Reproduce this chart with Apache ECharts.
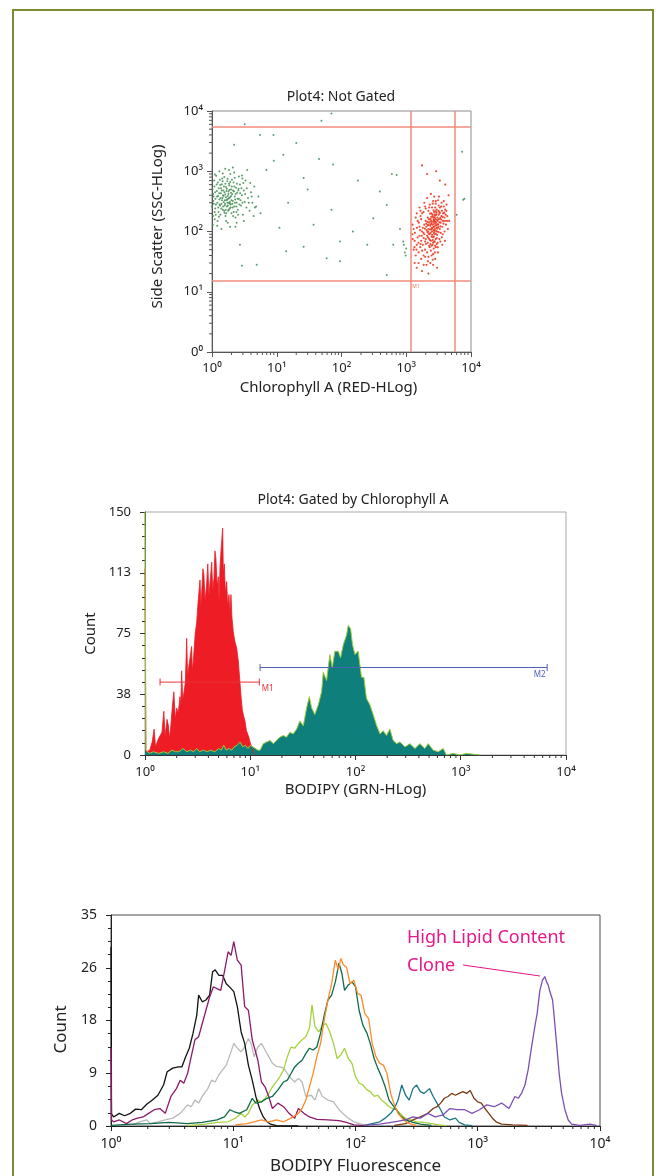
<!DOCTYPE html>
<html>
<head>
<meta charset="utf-8">
<script src="https://cdn.jsdelivr.net/npm/echarts@6/dist/echarts.min.js"></script>
<style>
  html, body { margin: 0; padding: 0; background: #fff; overflow: hidden; width: 660px; height: 1176px; }
  #frame { position: absolute; left: 12px; top: 9px; width: 642px; height: 1200px; border: 2px solid #7d8a36; box-sizing: border-box; }
  #main { position: absolute; left: 0; top: 0; width: 660px; height: 1176px; }
</style>
</head>
<body>
<div id="frame"></div>
<div id="main"></div>
<script>
// 字体 / superscripts
const FONT = '"Noto Sans", "DejaVu Sans", sans-serif';
const SUP = ['\u2070', '\u00b9', '\u00b2', '\u00b3', '\u2074'];

// log axis ticks (decades + 2..9 minors)
const decades = [1, 10, 100, 1000, 10000];
const minorMult = [2, 3, 4, 5, 6, 7, 8, 9];
const minorVals = decades.slice(0, 4).flatMap(d => minorMult.map(m => m * d));

// ---- Plot 1: Not Gated ----
const greenCloud = [
  [1.05,320],[1.1,210],[1.12,450],[1.15,280],[1.18,600],[1.2,380],[1.22,150],[1.25,250],[1.27,520],[1.3,340],
  [1.32,720],[1.35,190],[1.37,430],[1.4,290],[1.42,610],[1.45,360],[1.47,230],[1.5,480],[1.52,310],[1.55,800],
  [1.57,270],[1.6,410],[1.62,180],[1.65,550],[1.67,330],[1.7,260],[1.72,680],[1.75,390],[1.77,220],[1.8,460],
  [1.82,300],[1.85,580],[1.87,240],[1.9,370],[1.92,900],[1.95,280],[1.97,500],[2.0,200],[2.05,420],[2.1,320],
  [2.15,650],[2.2,260],[2.25,380],[2.3,170],[2.35,530],[2.4,300],[2.45,440],[2.5,230],[2.6,350],[2.7,600],
  [2.8,270],[2.9,400],[3.0,190],[3.1,480],[3.2,310],[3.3,700],[3.4,250],[3.6,360],[3.8,220],[4.0,450],
  [4.2,300],[4.5,560],[4.8,260],[5.2,380],[5.6,200],[1.0,260],[1.02,500],[1.03,130],[1.08,700],[1.06,380],
  [1.3,1000],[1.6,1100],[2.2,950],[2.6,820],[1.4,110],[1.9,120],[2.4,140],[3.5,1050],[1.1,160],[1.75,140],
  [2.1,1150],[1.33,270],[1.48,400],[1.58,330],[1.68,470],[1.78,350],[1.88,290],[1.98,390],[2.08,250],[2.18,460],
  [1.38,520],[1.63,230],[1.83,620],[2.28,340],[2.55,480],[1.24,390],[1.53,560],[1.73,300],[2.02,560],[2.38,210],
  [2.75,330],[1.16,840],[1.44,760],[1.28,175],[3.9,640],[4.4,180],[2.95,760],[1.12,240],[1.56,205],[2.12,180],
  [1.04,420],[1.07,290],[1.09,560],[1.13,350],[1.14,190],[1.19,470],[1.21,300],[1.23,650],[1.26,210],[1.29,430],
  [1.31,280],[1.34,590],[1.36,360],[1.39,240],[1.41,480],[1.43,330],[1.46,680],[1.49,260],[1.51,390],[1.54,220],
  [1.56,450],[1.59,290],[1.61,620],[1.64,370],[1.66,200],[1.69,510],[1.71,340],[1.74,750],[1.76,270],[1.79,420],
  [1.81,230],[1.84,360],[1.86,490],[1.89,310],[1.91,660],[1.94,250],[1.96,440],[1.99,330],[2.03,720],[2.07,290],
  [2.11,480],[2.16,210],[2.21,560],[2.26,300],[2.32,420],[2.37,260],[2.43,620],[2.48,350],[2.53,190],[2.58,510],
  [2.65,280],[2.72,430],[2.85,520],[2.95,300],[3.05,640],[3.25,420],[3.45,520],[3.7,300],[4.1,380],[4.6,250],
  [1.11,880],[1.47,920],[1.83,1050],[2.24,780],[2.9,850],[1.2,125],[1.65,150],[2.3,120],[3.1,150],[1.04,180]
];
const greenSparse = [
  [49,6900],[70,9100],[3.2,6000],[8.9,4000],[20,2950],[12.6,1870],[2.2,2750],[6.9,1050],[74,1290],[26,770],
  [710,870],[390,460],[70,230],[500,275],[7600,335],[6000,190],[11,115],[37,130],[150,100],[310,166],
  [95,68],[14,47],[26,56],[4.9,28],[59,36],[630,60],[950,45],[920,60],[1000,52],[900,68],
  [980,40],[500,19],[95,32],[2.7,60],[2.9,27],[7900,350],[7300,2100],[5.5,4000],[30,500],[15,300],
  [180,700],[45,1600],[9,1500],[250,60],[800,110],[600,900]
];
const redCloud = [
  [2500,100],[2700,120],[2300,90],[2900,140],[2600,80],[2200,110],[3000,100],[2800,160],[2400,70],[2100,85],
  [3100,130],[2650,105],[2350,125],[2750,90],[2950,115],[2450,150],[2150,65],[3200,160],[2550,60],[2850,75],
  [2050,120],[3300,110],[2250,140],[2620,170],[2900,190],[2480,115],[2720,135],[2380,95],[2180,100],[3050,150],
  [2580,130],[2780,110],[2300,55],[2000,75],[1900,90],[1800,60],[2100,45],[1950,50],[1700,70],[2200,38],
  [1850,40],[1650,55],[2400,48],[2600,42],[1750,100],[1600,85],[3400,140],[3500,180],[3300,200],[3150,220],
  [2950,230],[3400,95],[3600,120],[2800,250],[2450,200],[2700,210],[2150,170],[2000,150],[1900,130],[1800,115],
  [3700,150],[3550,80],[3250,75],[2950,62],[2650,52],[2350,30],[2050,28],[1700,35],[1550,45],[1450,60],
  [1400,40],[1500,80],[1350,70],[1300,50],[1250,90],[1600,120],[1700,160],[1550,30],[1450,25],[1750,22],
  [2800,35],[3100,45],[3600,60],[3900,100],[4100,130],[4300,180],[4000,230],[3800,260],[3500,300],[3100,330],
  [2600,320],[2300,280],[2000,240],[1850,210],[3700,200],[3900,170],[4400,110],[4600,150],[3300,250],[2850,290],
  [2500,250],[2200,220],[1500,150],[1300,110],[1400,170],[1250,130],[1350,30],[2600,28],[3000,25],[2200,20],
  [3200,380],[2400,420],[2700,380],[3800,320],[4200,280],[1900,300],[2100,360],[4500,400],[1600,250],[1450,200],
  [2520,112],[2680,95],[2830,125],[2330,108],[2460,82],[2760,148],[2990,88],[2240,76],[2570,178],[2890,102],
  [3120,118],[2410,132],[2140,128],[2690,68],[3030,170],[2370,162],[2610,145],[2940,205],[2230,92],[2790,58],
  [1750,1250],[2100,900],[2900,1000],[3300,700],[4000,600],
  [2520,88],[2620,118],[2720,102],[2820,142],[2920,128],[3020,112],[2420,108],[2320,72],[2220,128],[2120,98],
  [2020,62],[2660,158],[2760,172],[2860,92],[2960,158],[3060,132],[3160,98],[3260,142],[3360,168],[2460,138],
  [2360,148],[2260,58],[2160,80],[2060,105],[1960,68],[1860,78],[1760,48],[1660,62],[2560,72],[2660,82],
  [2760,68],[2860,55],[2960,78],[3060,65],[3160,190],[3260,210],[3360,122],[3460,158],[2540,190],[2640,225],
  [2740,190],[2840,215],[2440,175],[2340,198],[2240,160],[2140,145],[2040,135],[1940,112],[1840,95],[1740,85],
  [1640,105],[1540,65],[1440,50],[1340,55],[1260,75],[1360,95],[1460,115],[1560,140],[1660,180],[1760,200],
  [3560,220],[3660,175],[3760,135],[3860,205],[3960,150],[4060,190],[4160,220],[4260,150],[3460,260],[3160,270],
  [2860,320],[2560,290],[2260,250],[1960,260],[1660,220],[1960,38],[2160,32],[2460,40],[2760,45],[3060,55],
  [3360,68],[3660,90],[3960,70],[1860,28],[2560,34],[2360,62],[2460,58],[2600,65],[2700,150],[2800,185]
];
const gateY = [15, 5400];
const gateX = [1180, 5560];

// ---- Plot 2: Gated by Chlorophyll A ----
const bodipyRed = [
  [1.0,115],[1.02,2],[1.04,1],[1.11,3],[1.17,8],[1.22,16],[1.26,5],[1.29,4],[1.34,10],[1.39,9],
  [1.45,14],[1.51,27],[1.55,12],[1.58,16],[1.62,22],[1.67,18],[1.71,10],[1.75,16],[1.82,30],[1.88,39],
  [1.94,22],[2.0,29],[2.07,26],[2.15,36],[2.19,30],[2.23,52],[2.28,34],[2.35,39],[2.42,45],[2.49,72],
  [2.54,48],[2.6,54],[2.68,60],[2.77,67],[2.82,52],[2.88,58],[3.0,75],[3.1,82],[3.2,95],[3.33,108],
  [3.4,92],[3.45,99],[3.55,115],[3.63,111],[3.72,95],[3.85,105],[3.95,118],[4.05,98],[4.14,106],[4.22,112],
  [4.3,119],[4.4,102],[4.52,109],[4.62,126],[4.72,121],[4.85,104],[4.97,110],[5.05,95],[5.16,116],[5.3,128],
  [5.47,140],[5.55,112],[5.67,118],[5.8,100],[5.97,107],[6.1,92],[6.28,99],[6.4,88],[6.56,99],[6.7,85],
  [6.9,76],[7.15,70],[7.43,66],[7.7,58],[7.98,45],[8.2,35],[8.4,28],[8.65,24],[8.91,21],[9.2,15],
  [9.58,12],[10.07,7],[10.4,4],[10.7,1],[11.1,0]
];
const bodipyTeal = [
  [1.0,150],[1.02,3],[1.1,1],[1.2,2],[1.35,1],[1.5,2],[1.65,1],[1.8,3],[1.95,2],[2.1,2],
  [2.3,4],[2.5,2],[2.7,3],[2.9,2],[3.1,4],[3.3,2],[3.6,3],[3.9,2],[4.2,3],[4.6,2],
  [5.0,4],[5.3,3],[5.6,6],[5.9,3],[6.3,4],[6.7,3],[7.0,5],[7.5,6],[8.0,8],[8.5,5],
  [9.0,6],[9.5,4],[10.0,6],[10.6,5],[11.2,4],[11.8,3],[12.4,3],[13.3,7],[14.3,8],[15.4,9],
  [16.6,7],[17.8,9],[19.1,11],[20.6,12],[22.1,11],[23.8,14],[25.6,13],[27.6,16],[29.6,21],[31.9,18],
  [34.3,29],[36.4,36],[38.3,29],[41.1,25],[44.3,31],[47.6,39],[49.4,51],[53.1,46],[57.1,62],[60.1,54],
  [63.7,64],[68.6,64],[72.1,60],[76.5,68],[82.2,74],[85.3,80],[89.8,78],[93.8,68],[98.7,62],[106,64],
  [114,48],[120,48],[127,35],[137,31],[147,25],[159,18],[171,13],[183,15],[197,12],[212,16],
  [228,9],[245,7],[264,8],[295,5],[329,7],[367,4],[409,7],[456,4],[491,7],[547,3],
  [611,2],[681,4],[732,0],[847,1],[980,0],[1135,1],[1518,0]
];
const gateM1 = [1.39, 12.2];
const gateM2 = [12.4, 6620];
const gateM1Count = 45;
const gateM2Count = 54;

// ---- Plot 3: BODIPY Fluorescence of clones ----
const cloneBlack = [
  [1.0,29.7],[1.01,2],[1.05,1.5],[1.17,2.1],[1.29,1.7],[1.44,2.1],[1.59,2.8],[1.77,2.7],[1.96,3.6],[2.18,4.3],
  [2.42,5.1],[2.69,6.8],[2.88,9.0],[3.2,9.6],[3.55,9.8],[3.8,9.8],[4.08,11.5],[4.37,12.9],[4.69,15.4],[5.03,18.4],
  [5.21,21.7],[5.58,20.6],[5.98,20.9],[6.41,21.7],[6.78,25.6],[7.12,25.9],[7.63,25.0],[8.18,25.0],[8.77,23.6],[9.4,23.0],
  [10.1,22.3],[10.8,19.8],[11.6,15.6],[12.4,13.7],[13.3,10.1],[14.3,7.6],[15.3,4.9],[16.4,2.9],[17.6,1.5],[18.9,0.7],
  [20.2,0.3],[22.5,0.05],[34.1,0]
];
const cloneMagenta = [
  [1.0,13],[1.01,1],[1.05,0.7],[1.17,1.0],[1.34,0.4],[1.49,1.0],[1.65,1.3],[1.83,1.5],[2.03,2.1],[2.26,2.7],
  [2.51,2.9],[2.78,2.1],[3.09,4.9],[3.43,6.2],[3.68,7.6],[3.94,7.1],[4.23,8.7],[4.53,11.5],[4.86,14.3],[5.21,14.8],
  [5.58,17.0],[5.98,19.2],[6.41,21.4],[6.88,23.1],[7.37,22.8],[7.9,22.5],[8.47,25.6],[9.08,28.9],[9.6,28.3],[10.1,30.6],
  [10.8,27.5],[11.6,26.7],[12.4,19.8],[13.3,19.2],[14.3,14.3],[15.9,10.9],[17.0,7.3],[18.2,6.5],[19.5,4.9],[20.9,2.9],
  [23.2,3.8],[25.8,3.2],[28.6,2.1],[31.8,1.3],[34.1,2.9],[37.8,2.1],[42.0,1.5],[48.3,1.1],[59.5,1.0],[73.3,0.9],
  [84.3,0.6],[96.9,0.2],[119,0.05]
];
const cloneGray = [
  [1.49,0.2],[1.71,0.7],[1.96,1.0],[2.1,0.4],[2.42,0.7],[2.78,1.0],[3.2,1.3],[3.68,2.1],[4.23,3.5],[4.53,3.2],
  [4.86,4.3],[5.21,3.8],[5.58,4.9],[6.19,6.2],[6.64,7.6],[7.12,7.3],[7.63,8.5],[8.18,9.3],[8.77,10.1],[9.4,11.8],
  [10.1,13.7],[10.8,12.9],[11.6,12.3],[12.4,13.1],[13.3,14.5],[14.0,13.7],[14.8,11.5],[15.9,13.1],[17.0,13.7],[18.2,12.6],
  [19.5,11.5],[20.9,10.4],[22.5,9.9],[24.1,9.8],[25.8,9.6],[27.7,8.7],[29.7,7.9],[31.8,7.3],[34.1,7.9],[36.6,7.3],
  [39.2,4.9],[43.5,5.1],[46.6,4.3],[50.0,6.2],[53.6,4.9],[59.5,4.3],[66.1,4.0],[73.3,2.7],[78.5,2.1],[87.3,1.3],
  [96.9,0.7],[111,0.3],[137,0.1]
];
const cloneLime = [
  [4.23,0.05],[5.98,0.3],[7.37,0.6],[9.08,0.7],[10.4,1.3],[11.6,2.1],[12.4,1.5],[13.3,2.1],[14.3,3.5],[15.9,4.3],
  [17.0,4.0],[18.2,4.6],[19.5,5.4],[20.9,6.5],[22.5,7.3],[24.1,8.2],[25.8,9.3],[27.7,11.5],[29.7,13.1],[31.8,12.9],
  [34.1,13.7],[36.6,14.3],[39.2,14.8],[42.0,16.2],[44.1,20.1],[46.6,16.5],[50.0,15.6],[53.6,16.7],[57.5,17.0],[61.6,15.6],
  [66.1,13.7],[70.8,11.2],[75.9,11.8],[81.4,12.9],[87.3,11.2],[93.6,10.4],[100,8.2],[107,7.1],[115,6.8],[124,6.0],
  [132,5.7],[142,4.9],[152,5.1],[163,4.3],[175,3.8],[188,3.2],[201,2.9],[216,2.7],[231,2.1],[248,1.5],
  [266,1.1],[285,1.0],[316,0.7],[363,0.6],[418,0.4],[480,0.2],[552,0.05]
];
const cloneGreen = [
  [1.01,0.1],[1.49,0.3],[2.1,0.4],[2.98,0.6],[4.23,0.4],[5.58,0.6],[7.37,1.0],[8.47,1.5],[9.4,2.7],[10.1,2.4],
  [11.2,2.1],[12.9,2.7],[14.3,4.6],[15.3,3.8],[17.0,4.0],[18.9,4.6],[20.9,4.9],[23.2,6.0],[25.8,7.3],[27.7,7.6],
  [29.7,8.7],[31.8,9.8],[34.1,10.4],[36.6,10.9],[39.2,12.0],[42.0,12.9],[45.0,12.6],[48.3,13.1],[51.8,15.4],[55.5,18.4],
  [59.5,20.9],[63.8,21.7],[68.4,23.9],[73.3,27.0],[77.4,25.3],[81.4,22.5],[87.3,23.4],[93.6,23.9],[100,23.1],[107,19.2],
  [115,16.7],[124,15.4],[132,13.7],[142,11.2],[152,9.6],[163,8.2],[175,6.5],[188,4.3],[201,3.5],[216,2.7],
  [231,1.8],[257,1.0],[295,0.6],[339,0.3],[418,0.1]
];
const cloneOrange = [
  [10.4,0.2],[12.9,0.4],[14.8,0.7],[17.0,1.0],[19.5,0.7],[22.5,1.0],[25.8,0.7],[29.7,1.3],[34.1,2.1],[36.6,2.9],
  [39.2,4.3],[42.0,6.5],[45.0,8.7],[48.3,11.5],[51.8,13.7],[55.5,17.6],[59.5,20.9],[63.8,23.6],[68.4,27.5],[72.3,25.9],
  [75.9,27.8],[79.6,26.7],[84.3,26.4],[90.3,23.6],[96.9,24.2],[104,22.0],[111,21.7],[119,18.7],[128,17.8],[137,13.7],
  [147,11.5],[158,10.4],[169,10.1],[181,8.7],[194,5.4],[208,3.5],[223,2.1],[248,1.0],[275,0.4],[316,0.1]
];
const cloneTeal = [
  [119,0.1],[137,0.4],[158,0.7],[175,1.3],[194,2.1],[208,2.9],[223,4.3],[239,6.8],[257,5.1],[275,4.3],
  [295,6.2],[316,6.8],[339,5.7],[363,5.4],[403,6.2],[432,4.9],[464,3.8],[497,2.7],[533,1.5],[592,1.0],
  [657,1.3],[704,0.6],[782,0.2],[898,0.05]
];
const cloneBrown = [
  [208,0.1],[257,0.4],[295,1.0],[339,1.5],[390,2.1],[432,2.9],[464,3.2],[497,3.8],[533,4.6],[571,4.9],
  [613,5.4],[657,5.1],[704,5.4],[755,5.7],[809,5.4],[867,5.9],[931,4.6],[998,4.0],[1069,3.8],[1146,2.9],
  [1230,2.1],[1318,1.3],[1413,0.7],[1567,0.3],[1932,0.2],[2553,0.1]
];
const cloneViolet = [
  [119,0.1],[158,0.3],[208,0.7],[257,1.0],[295,1.5],[339,1.3],[390,2.1],[448,1.5],[515,1.8],[592,2.9],
  [680,2.7],[782,2.7],[898,2.1],[1033,2.7],[1187,3.5],[1365,3.2],[1567,3.8],[1803,2.9],[2013,4.9],[2143,4.6],
  [2280,5.4],[2432,6.8],[2583,9.3],[2754,13.1],[2931,16.5],[3062,18.7],[3221,22.5],[3388,24.2],[3539,24.8],[3653,23.9],
  [3767,23.4],[3890,22.3],[4093,20.9],[4220,18.1],[4411,13.7],[4637,8.7],[4852,5.4],[5164,2.7],[5495,1.0],[5861,0.3],
  [6839,0.1],[8260,0.3],[9376,0.1]
];
const cloneSeries = [cloneGray, cloneLime, cloneBlack, cloneMagenta, cloneTeal, cloneBrown, cloneGreen, cloneOrange, cloneViolet];
const cloneColors = ['#b9b9b9', '#a5d23c', '#111111', '#8c1a6a', '#1b7585', '#7b3a12', '#0d6a4b', '#ff8a2a', '#7c4fb3'];

// ---- helpers ----
function logLabel(v) {
  return '10' + SUP[Math.round(Math.log10(v))];
}

function logAxis(gridIndex, name, gap, o) {
  return {
    type: 'log', logBase: 10, min: 1, max: 10000, interval: 1, gridIndex,
    name, nameLocation: 'middle', nameGap: gap,
    nameTextStyle: { fontSize: o.nameSize, color: '#222', fontFamily: FONT, padding: o.namePad || 0 },
    axisLine: { show: true, lineStyle: { color: o.color, width: 1 } },
    axisTick: { show: true, length: 5, lineStyle: { color: o.color } },
    axisLabel: { fontSize: o.labelSize, color: '#222', margin: o.margin, fontFamily: FONT, formatter: o.formatter || logLabel },
    splitLine: { show: false }
  };
}

function countAxis(gridIndex, max, interval, split, gap, o) {
  return {
    type: 'value', min: 0, max, interval, gridIndex,
    name: 'Count', nameLocation: 'middle', nameGap: gap,
    nameTextStyle: { fontSize: o.nameSize, color: '#222', fontFamily: FONT, padding: o.namePad || 0 },
    axisLine: { show: true, lineStyle: { color: o.color, width: 1 } },
    axisTick: { show: true, length: 5, lineStyle: { color: o.color } },
    minorTick: { show: true, splitNumber: split, length: 3, lineStyle: { color: o.color } },
    axisLabel: { fontSize: o.labelSize, color: '#222', margin: o.margin, fontFamily: FONT, formatter: v => String(Math.round(v)) },
    splitLine: { show: false }
  };
}

// minor log ticks drawn as a custom series (2..9 of every decade)
function minorLogTicks(xi, yi, dim, base, color) {
  return {
    type: 'custom', xAxisIndex: xi, yAxisIndex: yi, silent: true, clip: false, z: 5,
    data: minorVals.map(v => dim === 'x' ? [v, base] : [base, v]),
    renderItem: function (params, api) {
      const p = api.coord([api.value(0), api.value(1)]);
      const shape = dim === 'x'
        ? { x1: p[0], y1: p[1], x2: p[0], y2: p[1] + 3 }
        : { x1: p[0], y1: p[1], x2: p[0] - 3, y2: p[1] };
      return { type: 'line', shape, style: { stroke: color, lineWidth: 1 } };
    }
  };
}

const chart = echarts.init(document.getElementById('main'), null, { renderer: 'canvas' });

const option = {
  animation: false,
  backgroundColor: 'transparent',
  textStyle: { fontFamily: FONT },
  grid: [
    { left: 212, top: 111, width: 259, height: 241, show: true, borderColor: '#8c8c8c', borderWidth: 1 },
    { left: 145, top: 512, width: 421, height: 243, show: true, borderColor: '#a8a8a8', borderWidth: 1 },
    { left: 111, top: 915, width: 489, height: 211, show: true, borderColor: '#4a4a4a', borderWidth: 1 }
  ],
  xAxis: [
    logAxis(0, 'Chlorophyll A (RED-HLog)', 28, { nameSize: 15, labelSize: 13, margin: 10, color: '#555', namePad: [0, 26, 0, 0] }),
    logAxis(1, 'BODIPY (GRN-HLog)', 27, { nameSize: 15, labelSize: 13, margin: 11, color: '#333' }),
    logAxis(2, 'BODIPY Fluorescence', 32, { nameSize: 17, labelSize: 14, margin: 11, color: '#222' })
  ],
  yAxis: [
    logAxis(0, 'Side Scatter (SSC-HLog)', 47, {
      nameSize: 15, labelSize: 13, margin: 9, color: '#555', namePad: [0, 0, 0, 10],
      formatter: v => (Math.round(Math.log10(v)) === 0 ? '0' + SUP[0] : logLabel(v))
    }),
    countAxis(1, 150, 37.5, 5, 38, { nameSize: 15, labelSize: 13, margin: 14, color: '#333' }),
    countAxis(2, 35, 8.75, 4, 40, { nameSize: 17, labelSize: 14, margin: 14, color: '#222', namePad: [0, 18, 0, 0] })
  ],
  graphic: [
    { type: 'text', x: 341, y: 97, style: { text: 'Plot4: Not Gated', font: '14px ' + FONT, fill: '#222', textAlign: 'center', textVerticalAlign: 'middle' } },
    { type: 'text', x: 353, y: 500, style: { text: 'Plot4: Gated by Chlorophyll A', font: '14px ' + FONT, fill: '#222', textAlign: 'center', textVerticalAlign: 'middle' } },
    { type: 'text', x: 407, y: 938, style: { text: 'High Lipid Content', font: '18px ' + FONT, fill: '#e8178a', textAlign: 'left', textVerticalAlign: 'middle' } },
    { type: 'text', x: 407, y: 966, style: { text: 'Clone', font: '18px ' + FONT, fill: '#e8178a', textAlign: 'left', textVerticalAlign: 'middle' } },
    { type: 'line', shape: { x1: 463, y1: 965, x2: 540, y2: 976 }, style: { stroke: '#e8178a', lineWidth: 1 } }
  ],
  series: [
    // plot 1
    {
      type: 'scatter', xAxisIndex: 0, yAxisIndex: 0, data: greenCloud.concat(greenSparse),
      symbolSize: 2, itemStyle: { color: '#3d8c4e', opacity: 0.85 }, silent: true
    },
    {
      type: 'scatter', xAxisIndex: 0, yAxisIndex: 0, data: redCloud,
      symbolSize: 2.2, itemStyle: { color: '#ee3a22', opacity: 0.9 }, silent: true,
      markLine: {
        silent: true, symbol: 'none', label: { show: false },
        lineStyle: { color: '#f08a7a', width: 1.5, type: 'solid' },
        data: gateY.map(v => ({ yAxis: v })).concat(gateX.map(v => ({ xAxis: v })))
      }
    },
    {
      type: 'scatter', xAxisIndex: 0, yAxisIndex: 0, data: [[1406, 12.1]], symbolSize: 1,
      itemStyle: { color: 'transparent' }, silent: true,
      label: { show: true, position: 'inside', formatter: 'M1', fontSize: 5, color: '#e0503a' }
    },
    minorLogTicks(0, 0, 'x', 1, '#555'),
    minorLogTicks(0, 0, 'y', 1, '#555'),
    // plot 2
    {
      type: 'line', xAxisIndex: 1, yAxisIndex: 1, data: bodipyRed, symbol: 'none',
      lineStyle: { color: '#ee1c25', width: 0.8 }, areaStyle: { color: '#ee1c25', opacity: 1 }, silent: true
    },
    {
      type: 'line', xAxisIndex: 1, yAxisIndex: 1, data: bodipyTeal, symbol: 'none',
      lineStyle: { color: '#9bcb3b', width: 1 }, areaStyle: { color: '#0e7f7b', opacity: 1 }, silent: true
    },
    {
      type: 'line', xAxisIndex: 1, yAxisIndex: 1, silent: true, z: 4,
      data: [[gateM1[0], gateM1Count], { value: [gateM1[1], gateM1Count], label: { show: true, position: 'right', distance: 2, offset: [0, 7], formatter: 'M1', fontSize: 8, color: '#e8343a' } }],
      symbol: 'rect', symbolSize: [1, 7], itemStyle: { color: '#e8343a' }, lineStyle: { color: '#e8343a', width: 1 }
    },
    {
      type: 'line', xAxisIndex: 1, yAxisIndex: 1, silent: true, z: 4,
      data: [[gateM2[0], gateM2Count], { value: [gateM2[1], gateM2Count], label: { show: true, position: 'left', distance: 1, offset: [0, 7], formatter: 'M2', fontSize: 8, color: '#5060b8' } }],
      symbol: 'rect', symbolSize: [1, 7], itemStyle: { color: '#5060b8' }, lineStyle: { color: '#5060b8', width: 1 }
    },
    minorLogTicks(1, 1, 'x', 0, '#333'),
    // plot 3
    ...cloneSeries.map((d, i) => ({
      type: 'line', xAxisIndex: 2, yAxisIndex: 2, data: d, symbol: 'none', silent: true,
      lineStyle: { color: cloneColors[i], width: 1.3 }
    })),
    minorLogTicks(2, 2, 'x', 0, '#222')
  ]
};

chart.setOption(option);
</script>
</body>
</html>
